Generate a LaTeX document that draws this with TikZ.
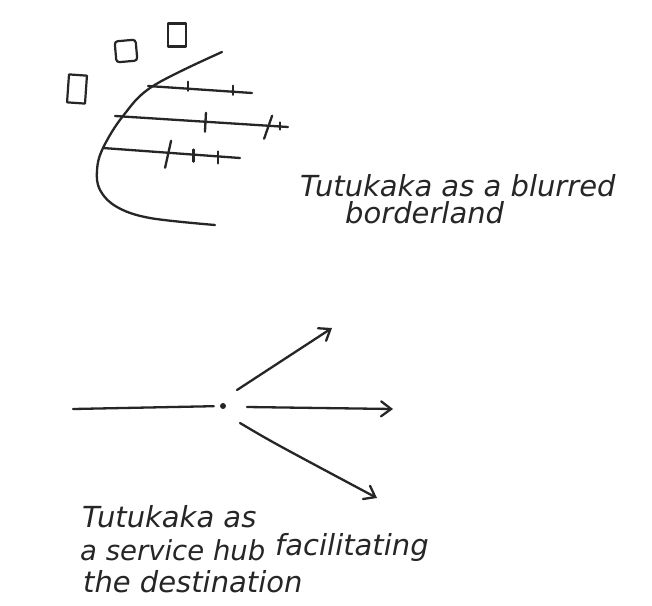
\documentclass[tikz,border=0pt]{standalone}
\usepackage{fontspec}
\setmainfont{DejaVu Sans}
\usetikzlibrary{arrows.meta,calc}
\definecolor{ink}{HTML}{262626}
\begin{document}
\begin{tikzpicture}[x=1pt,y=-1pt,
  pen/.style={draw=ink, line width=2.3pt, line cap=round, line join=round},
  box/.style={draw=ink, line width=2.2pt, rectangle, inner sep=0pt, line join=round},
  hand/.style={font=\itshape\fontsize{29}{34}\selectfont, text=ink, inner sep=0pt, anchor=base west},
  tipped/.style={-{Straight Barb[length=10pt,width=15pt,line cap=round]}}]
\useasboundingbox (0,0) rectangle (652,605);
\fill[white] (0,0) rectangle (652,605);

% squares
\node[box, minimum width=18pt, minimum height=28pt, rotate=-4] (sq1) at (77,89) {};
\node[box, minimum width=21pt, minimum height=21pt, rotate=5, rounded corners=3pt] (sq2) at (126,51) {};
\node[box, minimum width=18pt, minimum height=23pt] (sq3) at (177,35) {};

% border curve
\draw[pen] plot[smooth, tension=0.6] coordinates {(222,52) (153,86) (123,116) (103,148) (97,170) (100,190) (117,207) (150,218) (215,225)};

\coordinate (c1) at (148,86);  \coordinate (e1) at (252,93);
\coordinate (c2) at (115,116); \coordinate (e2) at (288,127);
\coordinate (c3) at (103,148); \coordinate (e3) at (240,158);

\draw[pen] (c1) -- (e1) coordinate[pos=0.385] (t11) coordinate[pos=0.82] (t12);
\draw[pen] (c2) -- (e2) coordinate[pos=0.52] (t21) coordinate[pos=0.885] (t22) coordinate[pos=0.955] (t23);
\draw[pen] (c3) -- (e3) coordinate[pos=0.475] (t31) coordinate[pos=0.66] (t32) coordinate[pos=0.84] (t33);

\draw[pen] ($(t11)+(0,-7)$) -- ($(t11)+(0,2)$);
\draw[pen] ($(t12)+(0,-6)$) -- ($(t12)+(0,3)$);
\draw[pen] ($(t21)+(1,-9)$) -- ($(t21)+(0,10)$);
\draw[pen] ($(t22)+(4,-10)$) -- ($(t22)+(-4,13)$);
\draw[pen] ($(t23)+(0,-4)$) -- ($(t23)+(0,3)$);
\draw[pen] ($(t31)+(3,-12)$) -- ($(t31)+(-3,15)$);
\draw[pen] ($(t32)+(0,-5)$) -- ($(t32)+(0,7)$);
\draw[pen] ($(t33)+(0,-5)$) -- ($(t33)+(0,7)$);

\node[hand] (t1) at (300,196) {Tutukaka as a blurred};
\node[hand] (t2) at (345,223) {borderland};

% hub diagram
\node[circle, fill=ink, inner sep=0pt, minimum size=6pt] (hub) at (223,406) {};
\coordinate (L) at (73,409);
\coordinate (u0) at (237,390); \coordinate (u1) at (332,328);
\coordinate (m0) at (247,407); \coordinate (m1) at (393,409);
\coordinate (d0) at (240,423); \coordinate (d1) at (377,498);

\draw[pen, shorten >=6pt] (L) -- (hub);
\draw[pen, tipped] (u0) -- (u1);
\draw[pen, tipped] (m0) -- (m1);
\draw[pen, tipped] (d0) .. controls (272,442) .. (d1);

\node[hand] (b1) at (82,527) {Tutukaka as};
\node[hand, font=\itshape\fontsize{27.5}{32}\selectfont] (b2) at (80,560) {a service hub};
\node[hand] (b3) at (275,555) {facilitating};
\node[hand] (b4) at (83,592) {the destination};
\end{tikzpicture}
\end{document}
